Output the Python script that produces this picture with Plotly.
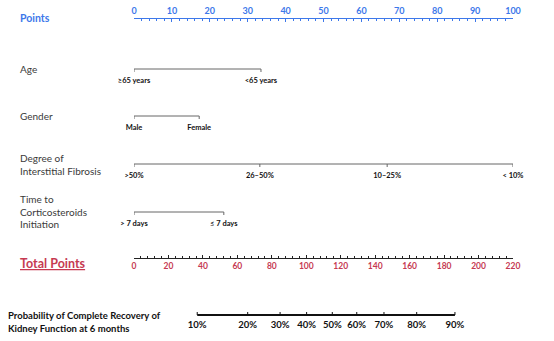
import plotly.graph_objects as go

# ---------------- data ----------------
points_ticks = list(range(0, 101, 10))
total_ticks = list(range(0, 221, 20))

age_levels = ["≥65 years", "<65 years"]
age_points = [0, 33.5]

gender_levels = ["Male", "Female"]
gender_points = [0, 17.2]

fibrosis_levels = [">50%", "26–50%", "10–25%", "< 10%"]
fibrosis_points = [0, 33.2, 66.8, 100]

time_levels = ["> 7 days", "≤ 7 days"]
time_points = [0, 23.7]

prob_labels = ["10%", "20%", "30%", "40%", "50%", "60%", "70%", "80%", "90%"]
prob_total_points = [36.7, 66.0, 84.8, 100.2, 115.1, 129.3, 145.1, 164.1, 186.3]

# ---------------- layout constants ----------------
W, H = 554, 341
X0, X1 = 134, 513
FONT = "Lato"
BLUE = "#3d78ea"
RED = "#c63a52"
GREY = "#3a3a3a"

fig = go.Figure()

rows = [
    (["Age"], 69, age_levels, age_points),
    (["Gender"], 116, gender_levels, gender_points),
    (["Degree of", "Interstitial Fibrosis"], 164, fibrosis_levels, fibrosis_points),
    (["Time to", "Corticosteroids", "Initiation"], 212, time_levels, time_points),
]

annotations = []

def left_label(text, y, size, color, bold=False, x=18):
    annotations.append(dict(
        xref="paper", yref="y", x=x / W, y=y, xanchor="left", yanchor="middle",
        text=text, showarrow=False,
        font=dict(family=FONT, size=size, color=color, weight="bold" if bold else "normal"),
    ))

left_label("Points", 18, 10.5, BLUE, bold=True)

for names, y, levels, pts in rows:
    fig.add_trace(go.Scatter(x=[min(pts), max(pts)], y=[y, y], mode="lines",
                             line=dict(color="#666666", width=1), xaxis="x", yaxis="y",
                             hoverinfo="skip", showlegend=False))
    tx, ty = [], []
    for p in pts:
        tx += [p, p, None]
        ty += [y, y + 3, None]
    fig.add_trace(go.Scatter(x=tx, y=ty, mode="lines", line=dict(color="#666666", width=1),
                             xaxis="x", yaxis="y", hoverinfo="skip", showlegend=False))
    fig.add_trace(go.Scatter(x=pts, y=[y + 12.5] * len(pts), mode="text", text=levels,
                             textposition="middle center", cliponaxis=False,
                             textfont=dict(family=FONT, size=7.5, color="#111111", weight="bold"),
                             xaxis="x", yaxis="y", hoverinfo="skip", showlegend=False))
    n = len(names)
    if n == 1:
        ys = [y]
    elif n == 2:
        ys = [y - 6.5, y + 7]
    else:
        ys = [y - 13, y, y + 12]
    for nm, yy in zip(names, ys):
        left_label(nm, yy, 10, GREY)

left_label("<u>Total Points</u>", 263, 12.5, RED, bold=True)

PY = 315
fig.add_trace(go.Scatter(x=[prob_total_points[0], prob_total_points[-1]], y=[PY, PY], mode="lines",
                         line=dict(color="#111111", width=2), xaxis="x2", yaxis="y",
                         hoverinfo="skip", showlegend=False))
tx, ty = [], []
for p in prob_total_points:
    tx += [p, p, None]
    ty += [PY, PY - 3, None]
fig.add_trace(go.Scatter(x=tx, y=ty, mode="lines", line=dict(color="#111111", width=1),
                         xaxis="x2", yaxis="y", hoverinfo="skip", showlegend=False))
fig.add_trace(go.Scatter(x=prob_total_points, y=[PY + 10.5] * len(prob_total_points), mode="text",
                         text=prob_labels, textposition="middle center", cliponaxis=False,
                         textfont=dict(family=FONT, size=9.5, color="#111111", weight="bold"),
                         xaxis="x2", yaxis="y", hoverinfo="skip", showlegend=False))
left_label("Probability of Complete Recovery of", 315, 9.5, "#111111", bold=True, x=6)
left_label("Kidney Function at 6 months", 328, 9.5, "#111111", bold=True, x=6)

fig.update_layout(
    width=W, height=H, margin=dict(l=0, r=0, t=0, b=0, autoexpand=False),
    paper_bgcolor="white", plot_bgcolor="white",
    annotations=annotations,
    xaxis=dict(
        domain=[X0 / W, X1 / W], range=[0, 100], anchor="free", position=1 - 18 / H,
        side="top", showline=True, linecolor=BLUE, linewidth=1, showgrid=False, zeroline=False,
        ticks="inside", ticklen=3, tickcolor=BLUE, tickwidth=1, automargin=False,
        tickvals=points_ticks, ticktext=[str(v) for v in points_ticks],
        tickfont=dict(family=FONT, size=9, color=BLUE, weight="bold"),
        minor=dict(dtick=2, ticklen=2, tickcolor=BLUE, ticks="inside", showgrid=False),
        fixedrange=True,
    ),
    xaxis2=dict(
        overlaying="x", range=[0, 220], anchor="free", position=1 - 258 / H,
        side="bottom", showline=True, linecolor="#222222", linewidth=1, showgrid=False, zeroline=False,
        ticks="inside", ticklen=3, tickcolor="#222222", tickwidth=1, automargin=False,
        tickvals=total_ticks, ticktext=[str(v) for v in total_ticks],
        tickfont=dict(family=FONT, size=8.5, color=RED, weight="bold"),
        minor=dict(dtick=4, ticklen=2, tickcolor="#222222", ticks="inside", showgrid=False),
        fixedrange=True,
    ),
    yaxis=dict(domain=[0, 1], range=[H, 0], visible=False, fixedrange=True),
)

fig.write_html("out.html")
